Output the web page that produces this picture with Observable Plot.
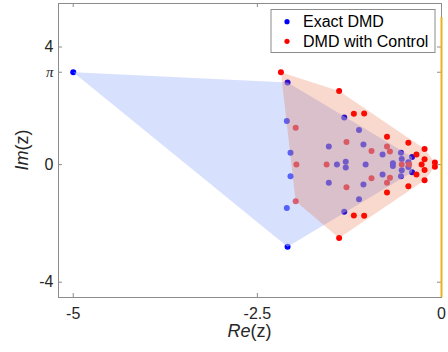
<!DOCTYPE html>
<html>
<head>
<meta charset="utf-8">
<script src="https://cdn.jsdelivr.net/npm/d3@7"></script>
<script src="https://cdn.jsdelivr.net/npm/@observablehq/plot@0.6"></script>
<style>
  html, body { margin: 0; padding: 0; background: #fff; }
  #chart { position: relative; width: 448px; height: 352px; }
  svg { font-family: "Liberation Sans", Arial, sans-serif; }
</style>
</head>
<body>
<div id="chart"></div>
<script>
// ---- data ----
const seriesNames = ["Exact DMD", "DMD with Control"];
const seriesColors = ["#0000ff", "#ff0000"];

const exactRe = [-5, -2.09, -2.10, -2.05, -2.05, -2.10, -2.09,
  -1.32, -1.32, -1.12, -1.12, -1.53, -1.53, -1.06, -1.06,
  -1.30, -1.30, -1.42, -1.03,
  -0.80, -0.80, -0.55, -0.55, -0.54, -0.54, -0.40, -0.40, -0.45, -0.45, -0.66, -0.66];
const exactIm = [Math.PI, 2.79, 1.48, 0.40, -0.40, -1.48, -2.79,
  1.60, -1.60, 1.18, -1.18, 0.62, -0.62, 0.68, -0.68,
  0.10, -0.10, 0, 0,
  0.34, -0.34, 0.40, -0.40, 0.19, -0.19, 0.26, -0.26, 0.08, -0.08, 0.05, -0.05];

const dmdcRe = [-2.18, -1.39, -1.39, -1.19, -1.19, -1.05, -1.05,
  -1.98, -1.98, -1.97, -1.56, -1.29, -1.29, -0.95, -0.95,
  -0.74, -0.74, -0.70, -0.70, -0.74, -0.74, -0.45, -0.45,
  -0.34, -0.34, -0.23, -0.23, -0.23, -0.23, -0.54, -0.44, -0.27, -0.09, -0.09];
const dmdcIm = [Math.PI, 2.50, -2.50, 1.73, -1.73, 1.74, -1.74,
  1.25, -1.25, 0, 0, 0.77, -0.77, 0.46, -0.46,
  0.62, -0.62, 0.45, -0.45, 0.95, -0.95, 0.74, -0.74,
  0.34, -0.34, 0.53, -0.53, 0.18, -0.18, 0, 0, 0, 0.07, -0.07];

const xTicks = [-5, -2.5, 0];
const xTickLabels = ["-5", "-2.5", "0"];
const yTicks = [4, 0, -4];
const yTickLabels = ["4", "0", "-4"];
const piTick = [Math.PI];
const piLabel = ["π"];
const imagAxisX = [0];
const imagAxisSpan = [-4.52, 5];

const exact = exactRe.map((re, i) => ({re, im: exactIm[i]}));
const dmdc = dmdcRe.map((re, i) => ({re, im: dmdcIm[i]}));

const W = 448, H = 352;
const mL = 58, mR = 7, mT = 3, mB = 55;
const plotH = H - mT - mB, plotW = W - mL - mR;
const tick = 4;
const axisGray = "#8c8c8c";
const textCol = "#262626";

const chart = Plot.plot({
  width: W, height: H,
  marginLeft: mL, marginRight: mR, marginTop: mT, marginBottom: mB,
  x: {domain: [-5.2, 0], axis: null},
  y: {domain: [-4.52, 5.48], axis: null},
  style: {fontFamily: "Liberation Sans, Arial, sans-serif", background: "white"},
  marks: [
    Plot.dot(exact, {x: "re", y: "im", r: 3, fill: seriesColors[0], stroke: "none"}),
    Plot.dot(dmdc, {x: "re", y: "im", r: 3, fill: seriesColors[1], stroke: "none"}),
    Plot.hull(exact, {x: "re", y: "im", fill: "rgb(175,194,249)", fillOpacity: 0.5, stroke: "none"}),
    Plot.hull(dmdc, {x: "re", y: "im", fill: "rgb(225,65,5)", fillOpacity: 0.2, stroke: "none"}),
    Plot.frame({stroke: axisGray, strokeWidth: 1}),
    // inward ticks
    Plot.tickX(xTicks, {x: d => d, insetTop: plotH - tick, stroke: axisGray}),
    Plot.tickX(xTicks, {x: d => d, insetBottom: plotH - tick, stroke: axisGray}),
    Plot.tickY(yTicks.concat(piTick), {y: d => d, insetRight: plotW - tick, stroke: axisGray}),
    Plot.tickY(yTicks.concat(piTick), {y: d => d, insetLeft: plotW - tick, stroke: axisGray}),
    Plot.ruleX(imagAxisX, {x: d => d, y1: imagAxisSpan[0], y2: imagAxisSpan[1], stroke: "#EDB120", strokeWidth: 2}),
    // tick labels
    Plot.text(xTicks, {x: d => d, text: (d, i) => xTickLabels[i], frameAnchor: "bottom", dy: 16.5, lineAnchor: "middle", fontSize: 16, fill: textCol}),
    Plot.text(yTicks, {y: d => d, text: (d, i) => yTickLabels[i], frameAnchor: "left", dx: -5, textAnchor: "end", lineAnchor: "middle", fontSize: 16, fill: textCol}),
    Plot.text(piTick, {y: d => d, text: (d, i) => piLabel[i], frameAnchor: "left", dx: -5, textAnchor: "end", lineAnchor: "middle", fontSize: 15, fontStyle: "italic", fontFamily: "Liberation Serif, DejaVu Serif, serif", fill: textCol})
  ]
});

document.getElementById("chart").appendChild(chart);

const svg = d3.select(chart);

// axis labels with mixed italic
const xl = svg.append("text")
  .attr("x", mL + plotW / 2).attr("y", 337)
  .attr("text-anchor", "middle").attr("font-size", 18).attr("fill", textCol);
xl.append("tspan").attr("font-style", "italic").text("Re");
xl.append("tspan").text("(z)");

const yl = svg.append("text")
  .attr("transform", `translate(28,${mT + plotH / 2}) rotate(-90)`)
  .attr("text-anchor", "middle").attr("font-size", 18).attr("fill", textCol);
yl.append("tspan").attr("font-style", "italic").text("Im");
yl.append("tspan").text("(z)");

// legend
const lg = svg.append("g");
lg.append("rect").attr("x", 271).attr("y", 9.5).attr("width", 164).attr("height", 43)
  .attr("fill", "white").attr("stroke", axisGray).attr("stroke-width", 1);
seriesNames.forEach((name, i) => {
  const cy = 21.7 + i * 19.6;
  lg.append("circle").attr("cx", 287).attr("cy", cy).attr("r", 2.6).attr("fill", seriesColors[i]);
  lg.append("text").attr("x", 303).attr("y", cy).attr("dy", "0.36em")
    .attr("text-anchor", "start")
    .attr("font-size", 16).attr("fill", "#000").text(name);
});
</script>
</body>
</html>
